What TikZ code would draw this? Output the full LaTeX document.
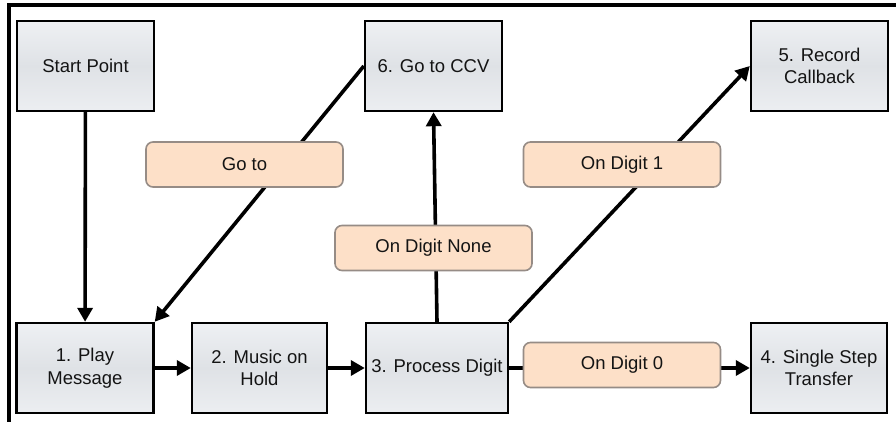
\documentclass[tikz,border=0pt]{standalone}
\usepackage{fontspec}
\setmainfont{Liberation Sans}
\usetikzlibrary{arrows.meta}
\definecolor{boxtop}{RGB}{238,240,243}
\definecolor{boxmid}{RGB}{223,226,230}
\definecolor{boxbot}{RGB}{236,238,241}
\definecolor{lblfill}{RGB}{253,224,200}
\definecolor{lbldraw}{RGB}{150,140,134}
\definecolor{txt}{RGB}{20,20,20}
\begin{document}
\begin{tikzpicture}[x=1pt,y=-1pt,
  stepbox/.style={draw=black, line width=2.4pt, top color=boxtop, bottom color=boxbot, middle color=boxmid,
    minimum width=137pt, minimum height=90pt, inner sep=0pt, align=center,
    font=\fontsize{18.5}{22.5}\selectfont, text=txt},
  lbl/.style={draw=lbldraw, line width=1.6pt, fill=lblfill, rounded corners=7pt,
    minimum width=197pt, minimum height=45pt, inner sep=0pt, align=center,
    font=\fontsize{18.5}{22.5}\selectfont, text=txt},
  arr/.style={line width=3.6pt, -{Triangle[length=14pt,width=15pt]}}
]
\useasboundingbox (0,0) rectangle (896,422);
\draw[line width=3.2pt] (9,422) -- (9,5) -- (896,5);

\node[stepbox] (start) at (85.5,66) {Start Point};
\node[stepbox] (ccv) at (433.5,66) {6. Go to CCV};
\node[stepbox] (rec) at (819.5,66) {5. Record\\Callback};
\node[stepbox] (play) at (85,368) {1. Play\\Message};
\node[stepbox, minimum width=135pt] (music) at (259.5,368) {2. Music on\\Hold};
\node[stepbox, minimum width=142pt] (proc) at (437,368) {3. Process Digit};
\node[stepbox, minimum width=136pt] (single) at (819,368) {4. Single Step\\Transfer};

\draw[arr] (start) -- (play);
\draw[arr] (ccv.west) -- (play.north east);
\draw[arr] (play) -- (music);
\draw[arr] (music) -- (proc);
\draw[arr] (proc.north) -- (ccv.south);
\draw[arr] (proc.north east) -- (rec.west);
\draw[arr] (proc) -- (single);

\node[lbl] (lgoto) at (244.5,164.5) {Go to};
\node[lbl] (lone) at (622,164.5) {On Digit 1};
\node[lbl] (lnone) at (433.5,248) {On Digit None};
\node[lbl] (lzero) at (622,365) {On Digit 0};
\end{tikzpicture}
\end{document}
